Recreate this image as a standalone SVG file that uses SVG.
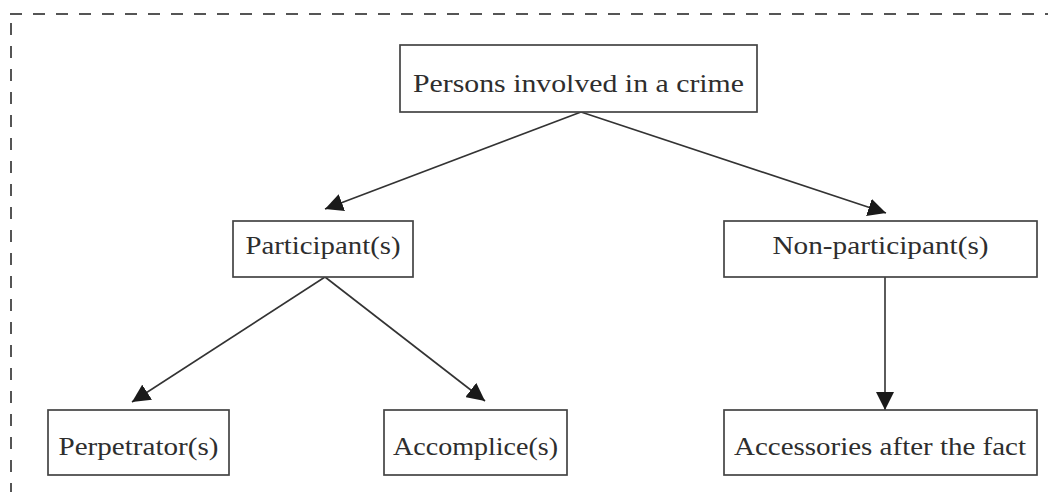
<svg xmlns="http://www.w3.org/2000/svg" width="1048" height="492" viewBox="0 0 1048 492">
<style>
  .box { fill: #ffffff; stroke: #444444; stroke-width: 1.7; }
  .lbl { font-family: "Liberation Serif", "Times New Roman", serif; font-size: 26px; fill: #2e2e2e; text-anchor: middle; }
  .edge { stroke: #333333; stroke-width: 1.6; fill: none; marker-end: url(#arrow); }
  .frame { stroke: #555555; stroke-width: 2; stroke-dasharray: 12 11; fill: none; }
</style>
<defs>
  <marker id="arrow" markerUnits="userSpaceOnUse" markerWidth="20" markerHeight="18" refX="18" refY="9" orient="auto">
    <path d="M0,0 L18,9 L0,18 Z" fill="#1a1a1a"/>
  </marker>
</defs>
<rect x="0" y="0" width="1048" height="492" fill="#ffffff"/>
<g id="frame">
  <line class="frame" x1="10" y1="14" x2="1048" y2="14"/>
  <line class="frame" x1="11" y1="23" x2="11" y2="492"/>
</g>
<g id="connectors">
  <line class="edge" x1="581" y1="112" x2="325" y2="209"/>
  <line class="edge" x1="581" y1="112" x2="886" y2="213"/>
  <line class="edge" x1="325" y1="277" x2="132" y2="402"/>
  <line class="edge" x1="325" y1="277" x2="485" y2="401"/>
  <line class="edge" x1="885" y1="277" x2="885" y2="410"/>
</g>
<g id="n-root">
  <rect class="box" x="400" y="45" width="357" height="67"/>
  <text class="lbl" x="578.5" y="92" textLength="331" lengthAdjust="spacingAndGlyphs">Persons involved in a crime</text>
</g>
<g id="n-participant">
  <rect class="box" x="233" y="221" width="180" height="56"/>
  <text class="lbl" x="323" y="254" textLength="155" lengthAdjust="spacingAndGlyphs">Participant(s)</text>
</g>
<g id="n-nonparticipant">
  <rect class="box" x="724" y="221" width="313" height="56"/>
  <text class="lbl" x="880.5" y="254" textLength="216" lengthAdjust="spacingAndGlyphs">Non-participant(s)</text>
</g>
<g id="n-perpetrator">
  <rect class="box" x="48" y="410" width="181" height="65"/>
  <text class="lbl" x="138.5" y="455" textLength="160" lengthAdjust="spacingAndGlyphs">Perpetrator(s)</text>
</g>
<g id="n-accomplice">
  <rect class="box" x="384" y="410" width="183" height="65"/>
  <text class="lbl" x="475.5" y="455" textLength="165" lengthAdjust="spacingAndGlyphs">Accomplice(s)</text>
</g>
<g id="n-accessories">
  <rect class="box" x="724" y="410" width="313" height="65"/>
  <text class="lbl" x="880" y="455" textLength="292" lengthAdjust="spacingAndGlyphs">Accessories after the fact</text>
</g>
</svg>
